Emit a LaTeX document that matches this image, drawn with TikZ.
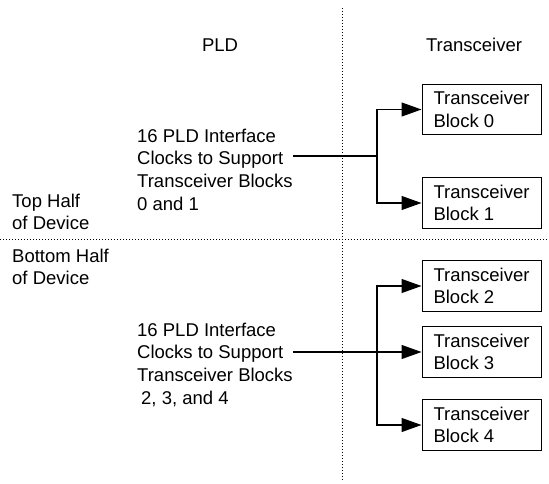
\documentclass[tikz,border=0pt]{standalone}
\usepackage{fontspec}
\setmainfont{Liberation Sans}
\usetikzlibrary{arrows.meta,positioning}

\begin{document}
\begin{tikzpicture}[x=1pt,y=-1pt,font=\fontsize{18.5}{22.7}\selectfont,
   blk/.style={draw,line width=1pt,minimum width=119pt,minimum height=50.5pt,
               align=left,inner sep=0pt},
   lbl/.style={align=left,anchor=north west,inner sep=0pt},
   sep/.style={line width=1pt,dash pattern=on 1.2pt off 1.8pt},
   link/.style={line width=1.2pt},
   arr/.style={link,-{Triangle[length=20pt,width=14pt]}}]
  \useasboundingbox (0,0) rectangle (549,484);
  % dotted borders
  \draw[sep] (342,8) -- (342,480);
  \draw[sep] (0,239) -- (549,239);
  % headings
  \node[anchor=base] (pld) at (220,52) {PLD};
  \node[anchor=base] (xcv) at (474,52) {Transceiver};
  \node[lbl] (top) at (12,193.6) {Top Half\\of Device};
  \node[lbl] (bot) at (12,248.6) {Bottom Half\\of Device};
  % clock texts
  \node[lbl] (t0) at (137,128.5) {16 PLD Interface\\Clocks to Support\\Transceiver Blocks\\0 and 1};
  \node[lbl] (t1) at (137,322.6) {16 PLD Interface\\Clocks to Support\\Transceiver Blocks\\\hspace{4pt}2, 3, and 4};
  % transceiver blocks
  \node[blk] (b0) at (481.5,109.5) {Transceiver\\Block 0};
  \node[blk] (b1) at (481.5,203)   {Transceiver\\Block 1};
  \node[blk] (b2) at (481.5,286)   {Transceiver\\Block 2};
  \node[blk] (b3) at (481.5,352)   {Transceiver\\Block 3};
  \node[blk] (b4) at (481.5,425)   {Transceiver\\Block 4};
  % clock fan-out
  \coordinate (j0) at (377,156);
  \coordinate (j1) at (377,352);
  \draw[link] (j0 -| t0.east) -- (j0);
  \draw[arr] (j0) |- (b0);
  \draw[arr] (j0) |- (b1);
  \draw[arr] (j1 -| t1.east) -- (b3);
  \draw[arr] (j1) |- (b2);
  \draw[arr] (j1) |- (b4);
\end{tikzpicture}
\end{document}
